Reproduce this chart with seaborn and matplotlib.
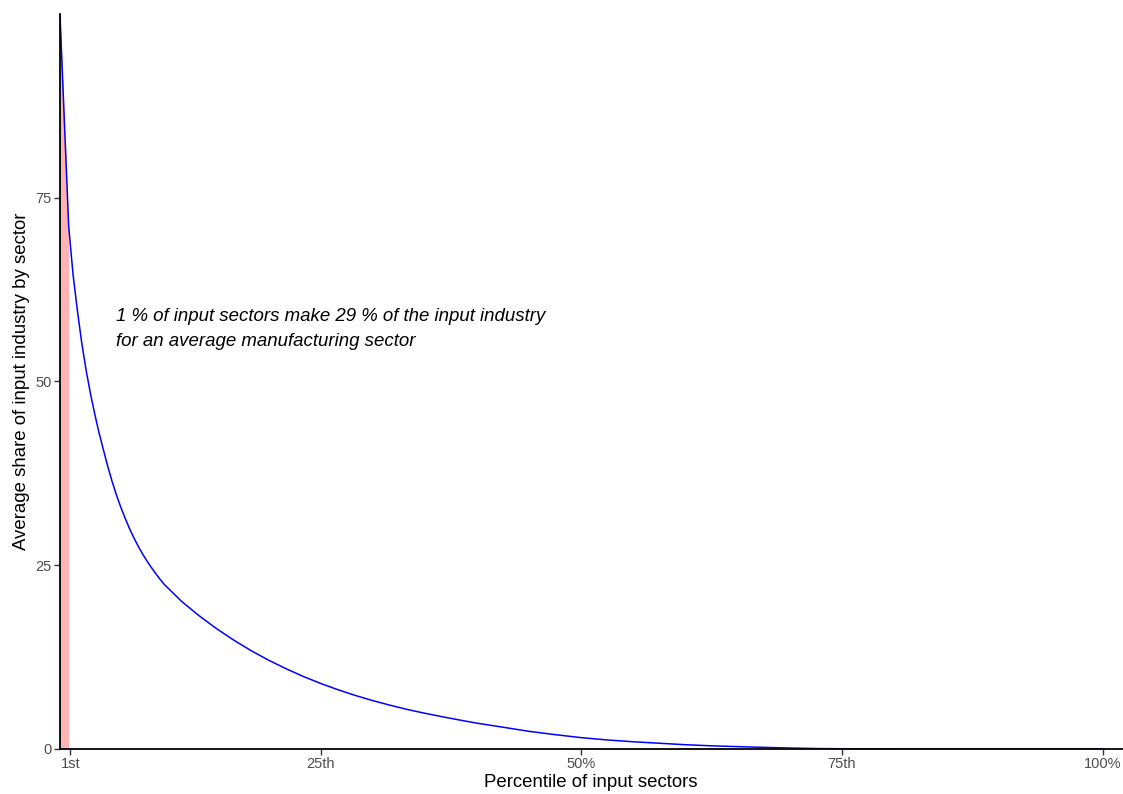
import numpy as np
import pandas as pd
import matplotlib
matplotlib.use("Agg")
import matplotlib.pyplot as plt
import seaborn as sns

# Percentile rank of input sector (0-100) and average share of input industry
percentile = [
    0.0, 0.833, 1.25, 1.667, 2.083, 2.5, 2.917, 3.333, 3.75, 4.167, 4.583, 5.0,
    5.417, 5.833, 6.25, 6.667, 7.083, 7.5, 7.917, 8.333, 8.75, 9.167, 9.583, 10.0,
    11.667, 13.333, 15.0, 16.667, 18.333, 20.0, 21.667, 23.333, 25.0, 26.667,
    28.333, 30.0, 31.667, 33.333, 35.0, 36.667, 38.333, 40.0, 42.5, 45.0, 47.5,
    50.0, 52.5, 55.0, 57.5, 60.0, 62.5, 65.0, 67.5, 70.0, 72.5, 75.0, 77.5, 80.0,
    85.0, 90.0, 95.0, 100.0,
]
share = [
    100.0, 71.2, 64.6, 59.7, 55.3, 51.6, 48.4, 45.6, 43.0, 40.7, 38.45, 36.4,
    34.55, 32.9, 31.4, 30.0, 28.75, 27.6, 26.55, 25.6, 24.72, 23.9, 23.12, 22.4,
    20.08, 18.14, 16.39, 14.81, 13.38, 12.09, 10.93, 9.87, 8.92, 8.06,
    7.28, 6.58, 5.95, 5.37, 4.86, 4.39, 3.94, 3.51, 2.96, 2.40, 1.95,
    1.54, 1.23, 0.98, 0.78, 0.58, 0.43, 0.32, 0.22, 0.13, 0.06, 0.03, 0.01, 0.0,
    0.0, 0.0, 0.0, 0.0,
]

# Top-1% band highlighted under the curve
top_band_end = 0.833

tick_positions = [1, 25, 50, 75, 100]
tick_labels = ["1st", "25th", "50%", "75th", "100%"]
y_ticks = [0, 25, 50, 75]

note_lines = ["1 % of input sectors make 29 % of the input industry",
              "for an average manufacturing sector"]

df = pd.DataFrame({"percentile": percentile, "share": share})

sns.set_theme(style="white")
plt.rcParams["font.family"] = ["Liberation Sans", "DejaVu Sans"]

fig = plt.figure(figsize=(11.23, 7.94), dpi=100)
ax = fig.add_axes([0.0534, 0.0567, 0.946, 0.9257])

band = df[df["percentile"] <= top_band_end]
ax.fill_between(band["percentile"], 0, band["share"], color="#FFB3B3", lw=0, zorder=1)

sns.lineplot(data=df, x="percentile", y="share", color="#0000FF", lw=1.1, ax=ax, zorder=2)

ax.set_xlim(0, 101.9)
ax.set_ylim(0, 100)
ax.set_xticks(tick_positions)
ax.set_xticklabels(tick_labels)
ax.set_yticks(y_ticks)

for s in ["top", "right"]:
    ax.spines[s].set_visible(False)
for s in ["left", "bottom"]:
    ax.spines[s].set_color("black")
    ax.spines[s].set_linewidth(1.3)
    ax.spines[s].set_zorder(3)

ax.tick_params(axis="both", which="major", length=4, width=1.0, color="#333333",
               labelsize=10.5, labelcolor="#4D4D4D", pad=2, bottom=True, left=True)

ax.set_xlabel("Percentile of input sectors", fontsize=13.4, color="black", labelpad=2)
ax.set_ylabel("Average share of input industry by sector", fontsize=13.4, color="black", labelpad=4)

ax.text(5.35, 58.8, note_lines[0], fontsize=13.4, style="italic", va="center", ha="left",
        color="black")
ax.text(5.35, 55.5, note_lines[1], fontsize=13.4, style="italic", va="center", ha="left",
        color="black")

ax.grid(False)
fig.savefig("out.png", dpi=100)
